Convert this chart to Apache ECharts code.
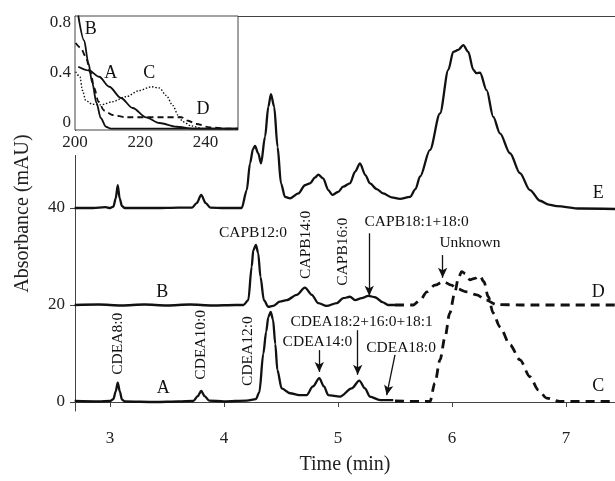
<!DOCTYPE html>
<html>
<head>
<meta charset="utf-8">
<script src="https://cdn.jsdelivr.net/npm/echarts@6/dist/echarts.min.js"></script>
<style>
    html, body { margin: 0; padding: 0; background: #fff; }
    #chart { width: 615px; height: 481px; }
</style>
</head>
<body>
<div id="chart"></div>
<script>
// main chromatograms: [time (min), absorbance (mAU)]
const traceE = [[2.69,40.0],[2.85,40.0],[2.96,40.2],[3.0,40.0],[3.03,40.3],[3.05,42.0],[3.068,44.7],[3.085,42.0],[3.105,40.4],[3.13,40.0],[3.4,40.0],[3.6,40.1],[3.72,40.1],[3.76,41.0],[3.80,42.7],[3.84,41.0],[3.88,40.1],[4.0,40.0],[4.155,40.0],[4.2,43.7],[4.228,49.2],[4.255,52.2],[4.272,52.8],[4.30,51.3],[4.325,49.2],[4.36,54.7],[4.389,60.9],[4.412,63.5],[4.44,60.9],[4.47,52.6],[4.50,45.1],[4.535,42.3],[4.58,42.0],[4.652,43.0],[4.71,44.7],[4.754,45.1],[4.80,46.3],[4.827,46.9],[4.87,46.1],[4.915,43.7],[4.95,42.7],[5.0,43.3],[5.046,44.4],[5.105,45.1],[5.15,47.5],[5.193,49.2],[5.24,46.8],[5.28,45.1],[5.34,43.9],[5.397,43.0],[5.47,42.2],[5.544,41.9],[5.632,42.3],[5.68,43.9],[5.72,46.5],[5.807,52.0],[5.895,59.5],[5.968,68.5],[6.011,72.2],[6.055,72.6],[6.099,73.6],[6.143,72.2],[6.187,68.5],[6.215,67.8],[6.246,67.9],[6.304,64.3],[6.362,58.8],[6.421,55.4],[6.509,51.3],[6.596,47.2],[6.684,43.7],[6.772,41.5],[6.85,40.7],[6.918,40.4],[7.123,39.9],[7.43,39.8]];
const traceB = [[2.69,20.0],[2.9,20.1],[3.1,19.9],[3.3,20.1],[3.5,19.9],[3.7,20.1],[3.9,19.9],[4.1,20.0],[4.17,20.0],[4.213,21.0],[4.243,27.9],[4.257,31.3],[4.28,32.4],[4.30,30.7],[4.32,25.8],[4.35,21.0],[4.389,19.6],[4.43,19.8],[4.49,20.7],[4.55,21.0],[4.638,22.1],[4.71,23.6],[4.77,22.1],[4.827,20.4],[4.90,19.8],[4.99,20.4],[5.046,21.4],[5.105,21.7],[5.15,21.0],[5.208,21.4],[5.266,21.9],[5.325,21.6],[5.39,20.6],[5.44,20.0],[5.5,20.0]];
const traceD = [[5.5,20.0],[5.66,20.0],[5.72,21.0],[5.78,22.7],[5.85,24.1],[5.924,24.8],[5.995,24.1],[6.04,23.4],[6.13,22.7],[6.217,22.1],[6.30,21.0],[6.39,20.1],[6.6,20.0],[7.43,20.0]];
const traceA = [[2.69,0.2],[2.9,0.1],[3.0,0.2],[3.03,0.6],[3.05,2.2],[3.068,4.0],[3.086,2.2],[3.105,0.5],[3.13,0.1],[3.4,0.0],[3.6,0.1],[3.73,0.2],[3.77,1.2],[3.80,2.3],[3.83,1.2],[3.87,0.3],[4.0,0.1],[4.2,0.3],[4.28,0.6],[4.31,2.0],[4.345,10.0],[4.37,14.5],[4.389,17.5],[4.41,18.6],[4.43,17.0],[4.45,12.0],[4.468,6.6],[4.506,2.8],[4.58,1.8],[4.66,1.4],[4.725,1.4],[4.78,3.2],[4.836,4.9],[4.877,3.2],[4.915,1.4],[5.018,1.1],[5.12,2.8],[5.187,4.4],[5.237,2.8],[5.28,1.1],[5.37,0.4],[5.485,0.4]];
const traceC = [[5.5,0.2],[5.807,0.1],[5.85,3.9],[5.895,8.7],[5.94,13.5],[5.98,18.3],[6.026,22.7],[6.055,25.5],[6.085,26.9],[6.114,26.5],[6.158,25.2],[6.20,25.5],[6.246,26.0],[6.28,24.8],[6.318,21.7],[6.362,18.3],[6.42,15.5],[6.509,11.8],[6.596,8.7],[6.684,5.2],[6.757,2.5],[6.83,0.8],[6.947,0.1],[7.43,0.1]];

// inset spectra: [wavelength (nm), absorbance]
const insetA = [[201.0,0.45],[204.3,0.42],[207.4,0.37],[210.5,0.29],[214.1,0.20],[217.7,0.12],[221.8,0.045],[225.9,0.0],[231.1,-0.03],[236.2,-0.045],[250,-0.045]];
const insetB = [[201.0,0.86],[202.8,0.66],[204.1,0.48],[205.3,0.32],[206.6,0.16],[207.9,0.04],[209.5,-0.03],[211,-0.045],[250,-0.045]];
const insetC = [[200.2,0.41],[201.5,0.37],[202.3,0.26],[203.3,0.18],[205.3,0.15],[207.9,0.145],[211.5,0.17],[215.6,0.21],[219.8,0.26],[223.4,0.29],[225.9,0.28],[228,0.22],[230,0.14],[231.6,0.064],[233.1,0.01],[235.7,-0.024],[239.3,-0.045],[250,-0.045]];
const insetD = [[200.2,0.64],[201.8,0.60],[203.3,0.53],[204.8,0.40],[205.9,0.28],[207.2,0.17],[208.9,0.10],[211.5,0.064],[215.6,0.046],[232.6,0.046],[234.7,0.018],[237.2,-0.008],[241.4,-0.035],[246.5,-0.045],[250,-0.045]];

const xTicks = [3, 4, 5, 6, 7];
const yTicks = [0, 20, 40];
const insetXTicks = [200, 220, 240];
const insetYTicks = [0, 0.4, 0.8];

// peak names: [text, time, mAU, rotated]
const peakLabels = [
    ['CDEA8:0', 3.066, 12.0, true],
    ['CDEA10:0', 3.80, 11.8, true],
    ['CDEA12:0', 4.213, 10.5, true],
    ['CAPB12:0', 4.254, 34.8, false],
    ['CAPB14:0', 4.72, 32.4, true],
    ['CAPB16:0', 5.047, 31.0, true],
    ['CAPB18:1+18:0', 5.69, 37.2, false],
    ['Unknown', 6.158, 32.7, false],
    ['CDEA18:2+16:0+18:1', 5.208, 16.6, false],
    ['CDEA14:0', 4.82, 12.4, false],
    ['CDEA18:0', 5.553, 11.1, false]
];
// arrows: [from time, from mAU, to time, to mAU]
const arrows = [
    [5.274, 34.8, 5.274, 21.9],
    [5.918, 30.3, 5.918, 25.6],
    [4.836, 10.7, 4.836, 6.2],
    [5.173, 14.8, 5.173, 5.6],
    [5.50, 9.7, 5.427, 1.4]
];
const traceNames = [['A', 3.468, 2.8], ['B', 3.459, 22.7], ['C', 7.283, 3.2], ['D', 7.283, 22.7], ['E', 7.283, 43.0]];
const insetNames = [['A', 211.0, 0.40], ['B', 204.8, 0.75], ['C', 222.8, 0.40], ['D', 239.3, 0.11]];

const serif = '"Liberation Serif", "DejaVu Serif", serif';
const ink = '#111';

const chart = echarts.init(document.getElementById('chart'));

function mainLine(name, data, dashed) {
    return {
        name: name,
        type: 'line',
        xAxisIndex: 0,
        yAxisIndex: 0,
        data: data,
        showSymbol: false,
        smooth: 0.3,
        smoothMonotone: 'x',
        lineStyle: {
            color: ink,
            width: dashed ? 2.8 : 2.3,
            type: dashed ? [9, 6] : 'solid'
        },
        z: 3
    };
}

function insetLine(name, data, type) {
    return {
        name: name,
        type: 'line',
        xAxisIndex: 1,
        yAxisIndex: 1,
        data: data,
        showSymbol: false,
        smooth: 0.3,
        smoothMonotone: 'x',
        lineStyle: { color: ink, width: type === 'dotted' ? 1.4 : 1.8, type: type === 'dashed' ? [6, 4] : (type === 'dotted' ? [1.5, 1.8] : 'solid') },
        z: 30
    };
}

const arrowSeries = mainLine('arrows', [], false);
arrowSeries.markLine = {
    silent: true,
    symbol: ['none', 'arrow'],
    symbolSize: [7, 10],
    label: { show: false },
    lineStyle: { color: ink, width: 1.3, type: 'solid' },
    data: arrows.map(a => [{ coord: [a[0], a[1]] }, { coord: [a[2], a[3]] }])
};

const option = {
    animation: false,
    backgroundColor: '#fff',
    grid: [
        { left: 75, top: 16, right: 0, bottom: 70 },
        { left: 75, top: 16, width: 163, height: 114, show: true, backgroundColor: '#fff', borderColor: '#444', borderWidth: 1, z: 20 }
    ],
    xAxis: [
        {
            type: 'value', gridIndex: 0, min: 2.693, max: 7.43,
            name: 'Time (min)', nameLocation: 'middle', nameGap: 44,
            nameTextStyle: { fontFamily: serif, fontSize: 20, color: '#222' },
            axisLine: { lineStyle: { color: '#444', width: 1 } },
            axisTick: { show: true, length: 5, customValues: xTicks, lineStyle: { color: '#444' } },
            axisLabel: { customValues: xTicks, fontFamily: serif, fontSize: 17, color: '#222', margin: 19 },
            splitLine: { show: false }
        },
        {
            type: 'value', gridIndex: 1, min: 200, max: 250,
            axisLine: { show: false },
            axisTick: { show: false },
            axisLabel: { customValues: insetXTicks, fontFamily: serif, fontSize: 17, color: '#222', margin: 4 },
            splitLine: { show: false },
            z: 40
        },
        {
            type: 'value', gridIndex: 0, position: 'top', min: 2.693, max: 7.43,
            axisLine: { lineStyle: { color: '#444', width: 1 } },
            axisTick: { show: false },
            axisLabel: { show: false },
            splitLine: { show: false }
        }
    ],
    yAxis: [
        {
            type: 'value', gridIndex: 0, min: -1.86, max: 79.6,
            name: 'Absorbance (mAU)', nameLocation: 'middle', nameGap: 42,
            nameTextStyle: { fontFamily: serif, fontSize: 20, color: '#222' },
            axisLine: { show: true, lineStyle: { color: '#444', width: 1 } },
            axisTick: { show: true, length: 5, customValues: yTicks, lineStyle: { color: '#444' } },
            axisLabel: { customValues: yTicks, fontFamily: serif, fontSize: 17, color: '#222', margin: 10 },
            splitLine: { show: false }
        },
        {
            type: 'value', gridIndex: 1, min: -0.056, max: 0.856,
            axisLine: { show: false },
            axisTick: { show: false },
            axisLabel: {
                customValues: insetYTicks, fontFamily: serif, fontSize: 17, color: '#222', margin: 4,
                formatter: v => (v === 0 ? '0' : String(v))
            },
            splitLine: { show: false },
            z: 40
        }
    ],
    series: [
        mainLine('E', traceE, false),
        mainLine('B', traceB, false),
        mainLine('D', traceD, true),
        mainLine('A', traceA, false),
        mainLine('C', traceC, true),
        arrowSeries,
        insetLine('A', insetA, 'solid'),
        insetLine('B', insetB, 'solid'),
        insetLine('C', insetC, 'dotted'),
        insetLine('D', insetD, 'dashed')
    ]
};

chart.setOption(option);

// texts are placed in data space, converted through the axes
function textEl(str, pos, size, rotated, z) {
    return {
        type: 'text',
        x: pos[0],
        y: pos[1],
        rotation: rotated ? Math.PI / 2 : 0,
        z: z,
        style: { text: str, x: 0, y: 0, align: 'center', verticalAlign: 'middle', font: size + 'px ' + serif, fill: ink }
    };
}

const elements = [];
// hide the main axis line behind the inset tick labels
const insetBottom = chart.convertToPixel({ gridIndex: 1 }, [200, -0.056]);
elements.push({ type: 'rect', z: 10, shape: { x: insetBottom[0] - 4, y: insetBottom[1] + 1, width: 8, height: 24 }, style: { fill: '#fff' } });

peakLabels.forEach(p => {
    elements.push(textEl(p[0], chart.convertToPixel({ gridIndex: 0 }, [p[1], p[2]]), 15.5, p[3], 50));
});
traceNames.forEach(p => {
    elements.push(textEl(p[0], chart.convertToPixel({ gridIndex: 0 }, [p[1], p[2]]), 18, false, 50));
});
insetNames.forEach(p => {
    elements.push(textEl(p[0], chart.convertToPixel({ gridIndex: 1 }, [p[1], p[2]]), 18, false, 60));
});

chart.setOption({ graphic: { elements: elements } });
</script>
</body>
</html>
